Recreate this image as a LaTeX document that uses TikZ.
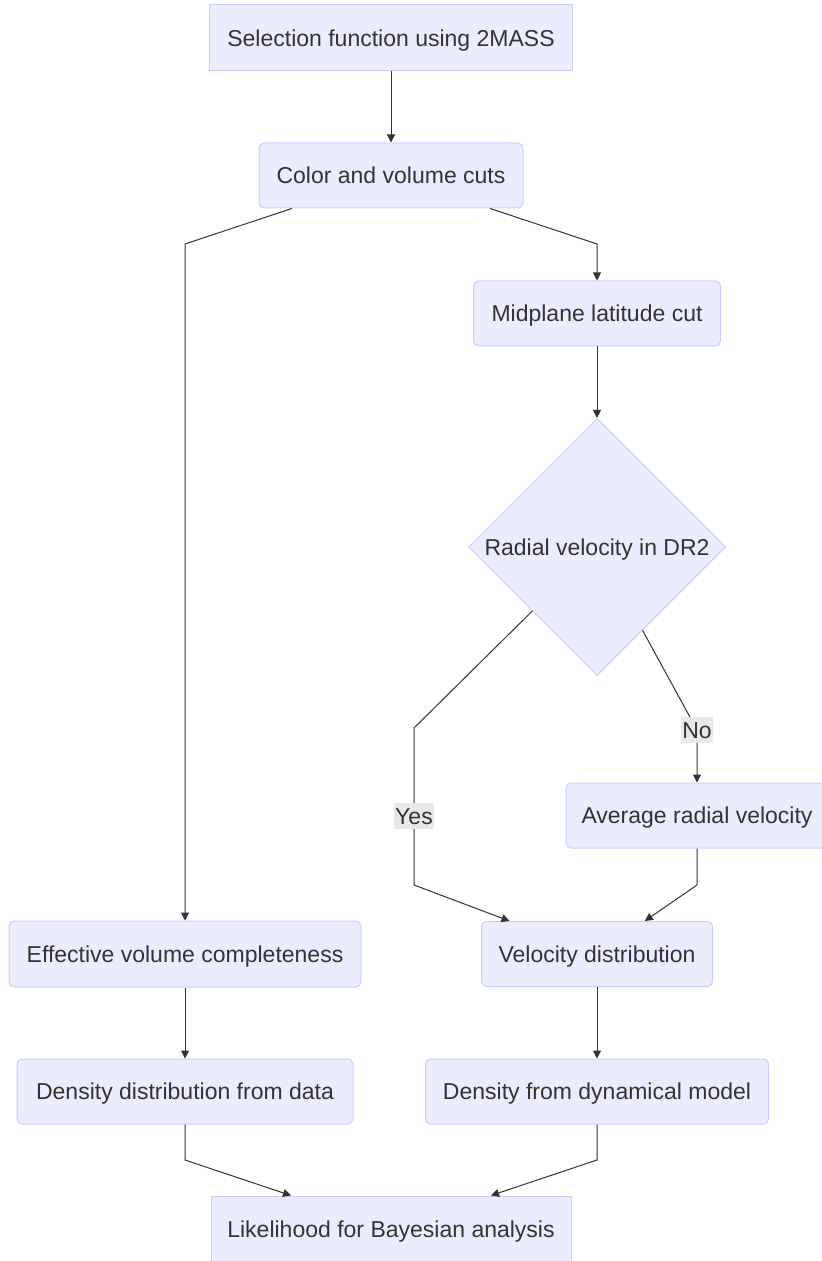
\documentclass[tikz,border=0pt]{standalone}
\usepackage{fontspec}
\setmainfont{Liberation Sans}
\usepackage{xcolor}
\usetikzlibrary{shapes.geometric, arrows.meta, positioning}

\definecolor{mmfill}{HTML}{ECECFF}
\definecolor{mmborder}{HTML}{CCCCFF}
\definecolor{mmtext}{HTML}{333333}
\definecolor{mmlabel}{HTML}{E8E8E8}

\begin{document}
\begin{tikzpicture}[
    x=0.5pt, y=-0.5pt,
    >={Triangle[length=4pt, width=4pt]},
    % Process boxes
    proc/.style={
        rectangle, rounded corners=2.5pt, draw=mmborder, fill=mmfill,
        line width=0.5pt, inner sep=0pt, minimum height=32.5pt,
        text height=8.2pt, text depth=0pt,
        text=mmtext, font=\fontsize{11.5}{14}\selectfont
    },
    % Square start/end boxes
    term/.style={proc, sharp corners, minimum height=33pt},
    % Decision diamond
    decision/.style={
        diamond, aspect=1, draw=mmborder, fill=mmfill, line width=0.5pt,
        inner sep=0pt, minimum width=128.5pt, minimum height=128.5pt,
        text height=8.2pt, text depth=0pt,
        text=mmtext, font=\fontsize{11.5}{14}\selectfont
    },
    % Edge label
    lbl/.style={
        fill=mmlabel, text=mmtext, inner xsep=0.5pt, inner ysep=0pt,
        minimum height=13pt, text height=8.2pt, text depth=0pt,
        font=\fontsize{11.5}{14}\selectfont
    },
    % Arrow
    arr/.style={->, line width=0.5pt, mmtext},
]

\useasboundingbox (0, 0) rectangle (822, 1261);

% ===== SELECTION =====
\node[term, minimum width=181.5pt] (sel) at (391, 38)
    {Selection function using 2MASS};

\node[proc, minimum width=132pt] (cuts) at (391, 175.5)
    {Color and volume cuts};

\draw[arr] (sel) -- (cuts);

% ===== RIGHT BRANCH =====
\node[proc, minimum width=123.5pt] (midplane) at (597, 313.5)
    {Midplane latitude cut};

\node[decision] (rv) at (597, 547)
    {Radial velocity in DR2};

\node[proc, minimum width=131pt] (avg_rv) at (697, 815.5)
    {Average radial velocity};

\node[proc, minimum width=115.5pt] (vel_dist) at (597, 954)
    {Velocity distribution};

\node[proc, minimum width=171.5pt] (dens_model) at (597, 1091.5)
    {Density from dynamical model};

% ===== LEFT BRANCH =====
\node[proc, minimum width=176pt, minimum height=33pt] (eff_vol) at (185, 954)
    {Effective volume completeness};

\node[proc, minimum width=168pt] (dens_data) at (185, 1091.5)
    {Density distribution from data};

% ===== LIKELIHOOD =====
\node[term, minimum width=180pt] (like) at (391, 1229)
    {Likelihood for Bayesian analysis};

% Bend points
\coordinate (cuts_l) at (185, 244);
\coordinate (cuts_r) at (597, 244);
\coordinate (no_bend) at (697, 730);
\coordinate (yes_top) at (414, 728);
\coordinate (yes_bot) at (414, 885);
\coordinate (avg_bot) at (697, 885);
\coordinate (data_bot) at (185, 1160);
\coordinate (model_bot) at (597, 1160);

\draw[arr] (cuts) -- (cuts_r) -- (midplane);
\draw[arr] (cuts) -- (cuts_l) -- (eff_vol);
\draw[arr] (midplane) -- (rv);

\draw[arr] (rv) -- (no_bend) node[lbl] {No} -- (avg_rv);
\draw[arr] (rv) -- (yes_top) -- node[lbl, pos=0.56] {Yes} (yes_bot) -- (vel_dist);
\draw[arr] (avg_rv) -- (avg_bot) -- (vel_dist);

\draw[arr] (vel_dist) -- (dens_model);
\draw[arr] (eff_vol) -- (dens_data);

\draw[arr] (dens_data) -- (data_bot) -- (like);
\draw[arr] (dens_model) -- (model_bot) -- (like);

\end{tikzpicture}
\end{document}
